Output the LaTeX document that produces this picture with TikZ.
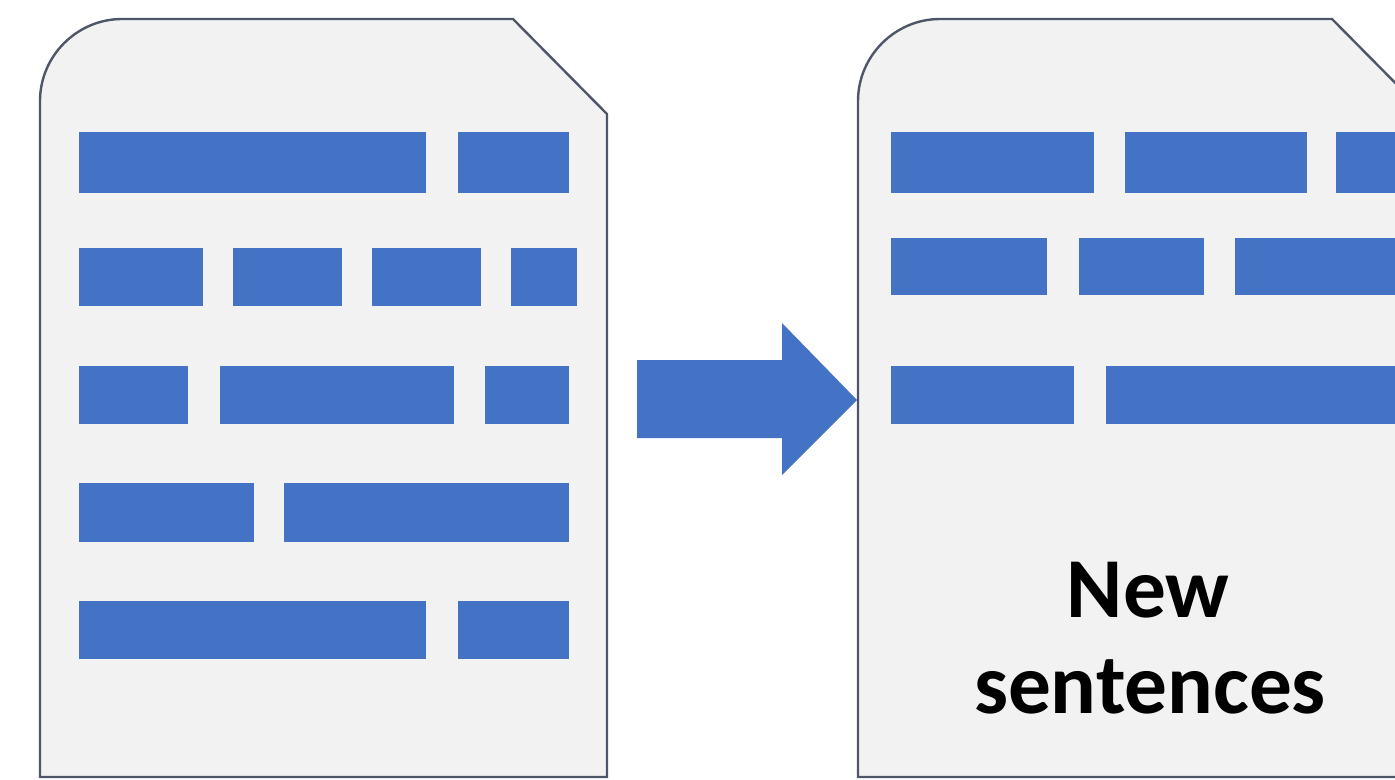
\documentclass[tikz,border=0pt]{standalone}
\usepackage{fontspec}
\newfontfamily\labelfont{Carlito}
\definecolor{barblue}{RGB}{68,114,196}
\definecolor{pagefill}{RGB}{242,242,242}
\definecolor{pageline}{RGB}{78,86,104}

\tikzset{every picture/.style={line width=0.75pt}}
\tikzset{
  page/.style={draw=pageline, fill=pagefill, line width=1.8pt},
  bar/.style={fill=barblue, draw=none},
  bigarrow/.style={fill=barblue, draw=none},
  lbl/.style={anchor=base, inner sep=0pt, font=\labelfont\bfseries\fontsize{64}{72}\selectfont}
}

\begin{document}
\begin{tikzpicture}[x=0.75pt,y=0.75pt,yscale=-1,xscale=1]
    \useasboundingbox (0,0) rectangle (1395,779);
    \clip (0,0) rectangle (1395,779);
    % old page
    \draw [page] (40,777) -- (40,101) .. controls (40,56) and (77,19) .. (122,19) -- (513,19) -- (607,114) -- (607,777) -- cycle ;
    \fill [bar] (79,132) rectangle (426,193) ;
    \fill [bar] (458,132) rectangle (569,193) ;
    \fill [bar] (79,248) rectangle (203,306) ;
    \fill [bar] (233,248) rectangle (342,306) ;
    \fill [bar] (372,248) rectangle (481,306) ;
    \fill [bar] (511,248) rectangle (577,306) ;
    \fill [bar] (79,366) rectangle (188,424) ;
    \fill [bar] (220,366) rectangle (454,424) ;
    \fill [bar] (485,366) rectangle (569,424) ;
    \fill [bar] (79,483) rectangle (254,542) ;
    \fill [bar] (284,483) rectangle (569,542) ;
    \fill [bar] (79,601) rectangle (426,659) ;
    \fill [bar] (458,601) rectangle (569,659) ;
    % new page
    \draw [page] (858,777) -- (858,101) .. controls (858,56) and (895,19) .. (940,19) -- (1332,19) -- (1426,114) -- (1426,777) -- cycle ;
    \fill [bar] (891,132) rectangle (1094,193) ;
    \fill [bar] (1125,132) rectangle (1307,193) ;
    \fill [bar] (1336,132) rectangle (1410,193) ;
    \fill [bar] (891,238) rectangle (1047,295) ;
    \fill [bar] (1079,238) rectangle (1204,295) ;
    \fill [bar] (1235,238) rectangle (1410,295) ;
    \fill [bar] (891,366) rectangle (1074,424) ;
    \fill [bar] (1106,366) rectangle (1410,424) ;
    % block arrow between the pages
    \fill [bigarrow] (637,360) -- (782,360) -- (782,323) -- (857,400) -- (782,475) -- (782,438) -- (637,438) -- cycle ;
    \node [lbl] (newlbl) at (1148,617) {New};
    \node [lbl] (sentlbl) at (1150,713) {sentences};
\end{tikzpicture}
\end{document}
